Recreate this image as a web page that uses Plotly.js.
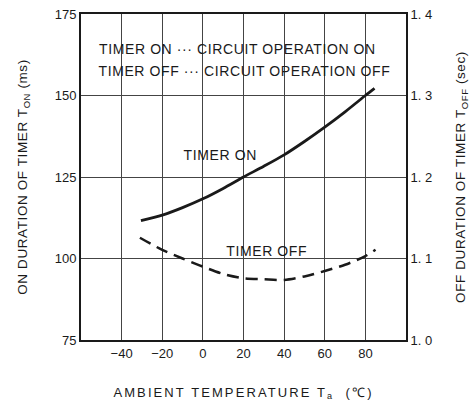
<!DOCTYPE html>
<html>
<head>
<meta charset="utf-8">
<script src="https://cdn.plot.ly/plotly-3.0.1.min.js"></script>
<style>
html,body{margin:0;padding:0;background:#fff;}
#chart{width:475px;height:414px;}
#chart .annotation-text{letter-spacing:0.6px;}
#chart .xtitle{letter-spacing:2.1px;}
#chart .ytitle,#chart .y2title{letter-spacing:0.6px;}
</style>
</head>
<body>
<div id="chart"></div>
<script>
// Ambient temperature (°C) for TIMER ON curve
const tempOn = [-30.5, -20, -10, 0, 10, 20, 30, 40, 50, 60, 70, 80, 84.5];
// TIMER ON duration T_ON (ms)
const timerOnMs = [111.6, 113.3, 115.6, 118.3, 121.5, 125, 128.3, 131.8, 135.9, 140.3, 145, 150, 152.2];
// Ambient temperature (°C) for TIMER OFF curve
const tempOff = [-31, -20, -10, 0, 10, 20, 30, 40, 50, 60, 70, 80, 85];
// TIMER OFF duration T_OFF (sec)
const timerOffSec = [1.1255, 1.1106, 1.100, 1.090, 1.081, 1.0757, 1.0745, 1.0737, 1.078, 1.0847, 1.0923, 1.103, 1.1107];

const xTickVals = [-40, -20, 0, 20, 40, 60, 80];
const yTickVals = [75, 100, 125, 150, 175];
const y2TickVals = [1.0, 1.1, 1.2, 1.3, 1.4];
const y2TickText = ['1. 0', '1. 1', '1. 2', '1. 3', '1. 4'];

const FONT = 'Liberation Sans, Arial, Helvetica, sans-serif';
const INK = '#1a1a1a';

const traces = [
  {x: tempOn, y: timerOnMs, mode: 'lines', line: {color: INK, width: 2.8, shape: 'spline', smoothing: 0.8},
   xaxis: 'x', yaxis: 'y', hoverinfo: 'skip'},
  {x: tempOff, y: timerOffSec, mode: 'lines', line: {color: INK, width: 2.5, shape: 'spline', smoothing: 0.8, dash: '12px,7px'},
   xaxis: 'x', yaxis: 'y2', hoverinfo: 'skip'}
];

const layout = {
  width: 475, height: 414,
  margin: {l: 81, r: 69, t: 14, b: 74},
  paper_bgcolor: '#fff', plot_bgcolor: '#fff',
  showlegend: false,
  font: {family: FONT, color: INK, size: 13},
  xaxis: {
    range: [-60, 100], tickvals: xTickVals, ticks: '',
    showgrid: true, gridcolor: '#444', gridwidth: 1,
    showline: true, linecolor: INK, linewidth: 2, mirror: true,
    zeroline: false, tickfont: {size: 13, family: FONT},
    title: {text: 'AMBIENT TEMPERATURE T<sub>a</sub>  (℃)', font: {size: 13, family: FONT}, standoff: 28}
  },
  yaxis: {
    range: [75, 175], tickvals: yTickVals, ticks: '',
    showgrid: true, gridcolor: '#444', gridwidth: 1,
    showline: true, linecolor: INK, linewidth: 2,
    zeroline: false, tickfont: {size: 13, family: FONT},
    title: {text: 'ON DURATION OF TIMER T<sub>ON</sub> (ms)', font: {size: 13.5, family: FONT}, standoff: 24}
  },
  yaxis2: {
    range: [1.0, 1.4], tickvals: y2TickVals, ticktext: y2TickText, ticks: '',
    overlaying: 'y', side: 'right', showgrid: false,
    showline: true, linecolor: INK, linewidth: 2,
    zeroline: false, tickfont: {size: 13, family: FONT},
    title: {text: 'OFF DURATION OF TIMER T<sub>OFF</sub> (sec)', font: {size: 13.5, family: FONT}, standoff: 24}
  },
  annotations: [
    {xref: 'paper', yref: 'paper', x: 0.081, y: 0.893, xanchor: 'left', yanchor: 'middle', showarrow: false,
     text: 'TIMER ON ··· CIRCUIT OPERATION ON', font: {size: 14, family: FONT, color: INK}},
    {xref: 'paper', yref: 'paper', x: 0.081, y: 0.825, xanchor: 'left', yanchor: 'middle', showarrow: false,
     text: 'TIMER OFF ··· CIRCUIT OPERATION OFF', font: {size: 14, family: FONT, color: INK}},
    {xref: 'x', yref: 'y', x: 8.5, y: 131.8, xanchor: 'center', yanchor: 'middle', showarrow: false,
     text: 'TIMER ON', font: {size: 14, family: FONT, color: INK}},
    {xref: 'x', yref: 'y', x: 31.5, y: 102.3, xanchor: 'center', yanchor: 'middle', showarrow: false,
     text: 'TIMER OFF', font: {size: 14, family: FONT, color: INK}}
  ]
};

Plotly.newPlot('chart', traces, layout, {displayModeBar: false, staticPlot: true});
</script>
</body>
</html>
